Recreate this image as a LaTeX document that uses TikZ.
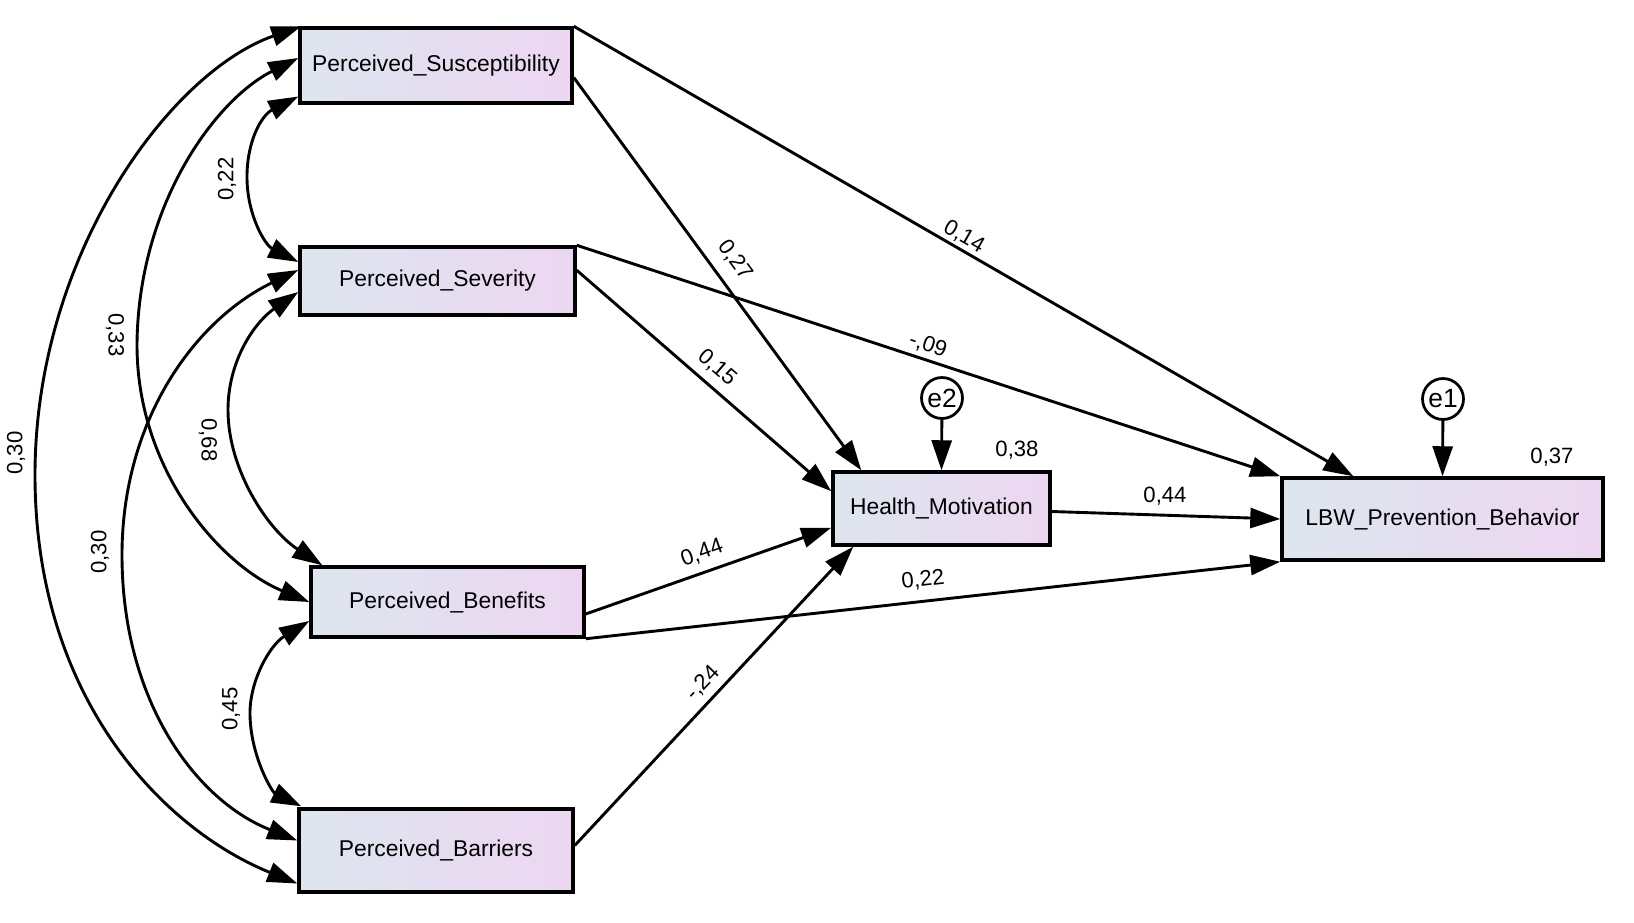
\documentclass[tikz,border=0pt]{standalone}
\usepackage{fontspec}
\setmainfont{Liberation Sans}
\usetikzlibrary{arrows.meta,calc}
\definecolor{varleft}{RGB}{221,230,239}
\definecolor{varright}{RGB}{237,214,241}
\begin{document}
\begin{tikzpicture}[x=0.02cm,y=-0.02cm,
	var/.style 2 args={draw,line width=0.07cm,left color=varleft,right color=varright,minimum width=#1cm,minimum height=#2cm,inner sep=0pt,font=\fontsize{13}{15}\selectfont},
	err/.style={draw,circle,line width=0.055cm,fill=white,minimum size=0.82cm,inner sep=0pt,font=\fontsize{15}{17}\selectfont},
	reg/.style={line width=0.058cm,-{Triangle[length=0.6cm,width=0.4cm]}},
	cov/.style={line width=0.058cm,{Triangle[length=0.6cm,width=0.4cm]}-{Triangle[length=0.6cm,width=0.4cm]}},
	coef/.style={inner sep=1pt,font=\fontsize{12.6}{14}\selectfont}]
	\useasboundingbox (0,0) rectangle (1634,923);
	% variables
	\node[var={5.44}{1.50}] (ps) at (436,65.5) {Perceived\_Susceptibility};
	\node[var={5.50}{1.36}] (pv) at (437.5,281) {Perceived\_Severity};
	\node[var={5.46}{1.40}] (pb) at (447.5,602) {Perceived\_Benefits};
	\node[var={5.48}{1.66}] (pr) at (436,850.5) {Perceived\_Barriers};
	\node[var={4.34}{1.46}] (hm) at (941.5,508.5) {Health\_Motivation};
	\node[var={6.42}{1.64}] (lbw) at (1442.5,519) {LBW\_Prevention\_Behavior};
	\node[err] (e2) at (942,398) {e2};
	\node[err] (e1) at (1443,399) {e1};
	% paths
	\draw[reg] ($(ps.east)+(0,12)$) -- ($(hm.north west)+(30,0)$);
	\draw[reg] (ps.north east) -- ($(lbw.north west)+(73,0)$);
	\draw[reg] ($(pv.north east)+(0,25)$) -- ($(hm.north west)+(0,21)$);
	\draw[reg] (pv.north east) -- (lbw.north west);
	\draw[reg] ($(pb.east)+(0,12)$) -- ($(hm.south west)+(0,-19)$);
	\draw[reg] (pb.south east) -- (lbw.south west);
	\draw[reg] ($(pr.east)+(0,-5)$) -- ($(hm.south west)+(22,0)$);
	\draw[reg] ($(hm.east)+(0,3)$) -- (lbw.west);
	\draw[reg] (e2) -- (hm.north);
	\draw[reg] (e1) -- (lbw.north);
	% covariances
	\draw[cov] ($(ps.west)+(0,31)$) .. controls (262,115) and (247,140) .. (247,177) .. controls (247,215) and (265,245) .. ($(pv.west)+(0,-19)$);
	\draw[cov] ($(ps.west)+(0,-7.5)$) .. controls (215,100) and (138,205) .. (137,345) .. controls (137,470) and (220,565) .. (pb.west);
	\draw[cov] ($(ps.north west)+(3,0)$) .. controls (170,72) and (35,255) .. (35,475) .. controls (35,700) and (165,830) .. ($(pr.west)+(0,33)$);
	\draw[cov] ($(pv.west)+(0,-11)$) .. controls (195,320) and (122,420) .. (122,555) .. controls (122,700) and (195,800) .. ($(pr.west)+(0,-10)$);
	\draw[cov] ($(pv.west)+(0,11)$) .. controls (255,322) and (228,360) .. (228,410) .. controls (228,470) and (268,530) .. ($(pb.north west)+(13,0)$);
	\draw[cov] ($(pb.west)+(0,19)$) .. controls (270,645) and (250,680) .. (250,713) .. controls (250,755) and (272,792) .. ($(pr.north west)+(4,-1)$);
	% coefficients
	\node[coef,rotate=-53.5] (k27) at (735,260) {0,27};
	\node[coef,rotate=-29.7] (k14) at (964,237) {0,14};
	\node[coef,rotate=-40.6] (k15) at (717,368) {0,15};
	\node[coef,rotate=-18.1] (k09) at (928,345) {-,09};
	\node[coef,rotate=19.4] (k44a) at (702,553) {0,44};
	\node[coef,rotate=6.5] (k22b) at (923,580) {0,22};
	\node[coef,rotate=46.5] (k24) at (703,683) {-,24};
	\node[coef] (k44b) at (1165,496) {0,44};
	\node[coef] (r38) at (1017,450) {0,38};
	\node[coef] (r37) at (1552,457) {0,37};
	\node[coef,rotate=90] (k22a) at (227,179) {0,22};
	\node[coef,rotate=-90] (k33) at (115,335) {0,33};
	\node[coef,rotate=90] (k30a) at (16,453) {0,30};
	\node[coef,rotate=-90] (k68) at (208,440) {0,68};
	\node[coef,rotate=90] (k30b) at (100,552) {0,30};
	\node[coef,rotate=90] (k45) at (231,709) {0,45};
\end{tikzpicture}
\end{document}
